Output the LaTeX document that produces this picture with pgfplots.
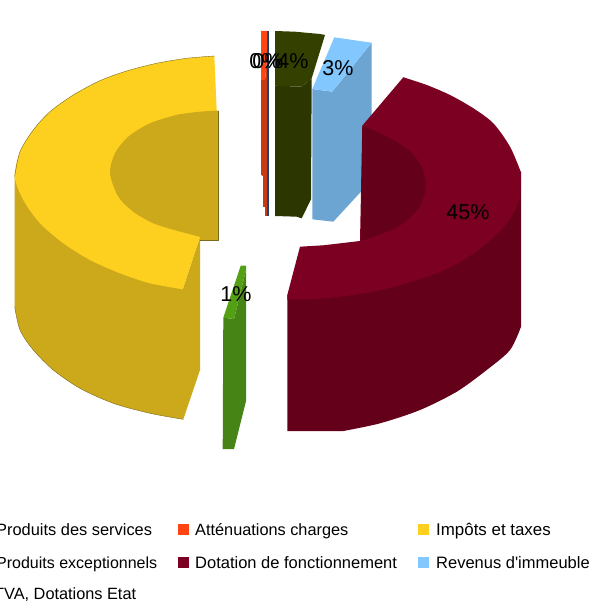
\documentclass[border=0pt]{standalone}
\usepackage{fontspec}
\setmainfont{Liberation Sans}
\newfontfamily\plainf{Liberation Sans}
\usepackage{pgfplots}
\pgfplotsset{compat=1.18}

\definecolor{yelTop}{HTML}{FDD01F}
\definecolor{yelSide}{HTML}{CCA81B}
\definecolor{yelEdge}{HTML}{7A6A20}
\definecolor{marTop}{HTML}{7B0022}
\definecolor{marSide}{HTML}{65001A}
\definecolor{bluTop}{HTML}{82C8FF}
\definecolor{bluSide}{HTML}{6CA4D2}
\definecolor{oliTop}{HTML}{334000}
\definecolor{oliSide}{HTML}{2B3600}
\definecolor{grnTop}{HTML}{54A015}
\definecolor{grnSide}{HTML}{478416}
\definecolor{oraTop}{HTML}{FF4511}
\definecolor{oraSide}{HTML}{C93A10}
\definecolor{navy}{HTML}{1F3F70}

\newcommand{\pct}[1]{{\fontsize{21.5}{24}\selectfont #1}}
\newcommand{\leg}[2]{{\plainf\fontsize{#1}{18}\selectfont #2}}

\begin{document}
\begin{tikzpicture}[x=1pt,y=1pt]
\useasboundingbox (0,0) rectangle (592,601);
\begin{axis}[at={(0,0)}, anchor=south west, scale only axis, width=592pt, height=601pt,
  xmin=0, xmax=592, ymin=0, ymax=601, y dir=reverse, hide axis, clip=true]

% blue slice
\addplot[fill=bluSide, draw=none] coordinates {(312.3,89) (332.3,91.7) (371.7,42.7) (371.7,180) (333.3,221.7) (312.3,219.3)};
\addplot[fill=bluTop, draw=none] coordinates {(334.3,37.3) (371.7,42.7) (332.3,91.7) (312.3,89)};

% olive slice
\addplot[fill=oliSide, draw=none] coordinates {(275,85.7) (301.7,86.7) (311.7,78.3) (311,199.3) (301.7,218.3) (296.7,216.7) (275,216)};
\addplot[fill=oliTop, draw=none] coordinates {(275,31) (295,31.7) (320,34) (325,35) (311.7,78.3) (301.7,86.7) (275,85.7)};

% orange and navy strips
\addplot[fill=navy, draw=none] coordinates {(267,31) (269,31) (269,216) (267,216)};
\addplot[fill=oraSide, draw=none] coordinates {(261,80) (265,80) (267,60) (267,216) (265,216) (265,207) (263,207) (263,176) (261,175)};
\addplot[fill=oraTop, draw=none] coordinates {(261,31) (267,31) (267,60) (265,80) (261,80)};

% green slice
\addplot[fill=grnSide, draw=none] coordinates {(223.3,317.7) (234,319) (246,270) (246,401) (234,449) (222.7,449)};
\addplot[fill=grnTop, draw=none] coordinates {(240.7,265.7) (246,265.7) (246,270) (234,319) (223.3,317.7)};

% yellow slice: side, top, inner wall
\addplot[fill=yelSide, draw=none] coordinates {(14.7,176.7) (14.7,306.7) (53.3,370) (113.3,403.3) (183.3,419.3) (200,370) (200,236.7) (182.7,289.3)};
\addplot[smooth, fill=yelSide, draw=none] coordinates {(14.7,306.7) (20,330) (33.3,350) (53.3,370) (80,388.3) (113.3,403.3) (150,413.3) (183.3,419.3)};
\addplot[fill=yelTop, draw=none] coordinates {(214.3,56) (216.7,110.7) (200,236.7) (182.7,289.3) (90,260) (14.7,176.7) (73.3,95)};
\addplot[smooth, fill=yelTop, draw=none] coordinates {(214.3,56) (186.7,58.3) (156.7,63.3) (126.7,71) (100,80.7) (73.3,95) (50,111.7) (33.3,130) (20,151.7) (14.7,176.7) (23.3,200) (40,223.3) (63.3,243.3) (90,260) (120,273.3) (150,283.3) (182.7,289.3)};
\addplot[fill=yelSide, draw=none] coordinates {(216.7,110.7) (218.3,110.7) (218.3,240.7) (200,240.7) (200,236.7) (133.3,211.7) (115,153.3) (176.7,115)};
\addplot[smooth, fill=yelSide, draw=none] coordinates {(200,236.7) (176.7,230.7) (153.3,223.3) (133.3,211.7) (118.3,196.7) (110,173.3) (115,153.3) (128.3,136.7) (150,123.3) (176.7,115) (200,111.7) (216.7,110.7)};
% thin dark edges on the yellow slice
\addplot[smooth, draw=yelEdge, line width=0.4pt] coordinates {(214.3,56) (186.7,58.3) (156.7,63.3) (126.7,71) (100,80.7) (73.3,95) (50,111.7) (33.3,130) (20,151.7) (14.7,176.7)};
\addplot[smooth, draw=yelEdge, line width=0.4pt] coordinates {(14.7,306.7) (20,330) (33.3,350) (53.3,370) (80,388.3) (113.3,403.3) (150,413.3) (183.3,419.3)};
\addplot[draw=yelEdge, line width=0.4pt] coordinates {(218.3,110.7) (218.3,240.7) (200,240.7)};

% maroon slice: side, top, inner wall
\addplot[fill=marSide, draw=none] coordinates {(521,171.7) (521,326.7) (456.7,391.7) (343.3,431) (287.3,431) (287.3,295)};
\addplot[smooth, fill=marSide, draw=none] coordinates {(521,326.7) (510,350) (486.7,370) (456.7,391.7) (420,410) (380,423.3) (343.3,431)};
\addplot[fill=marTop, draw=none] coordinates {(403.3,77.3) (473.3,108.3) (520.7,171.7) (486.7,243.3) (373.3,291.7) (287.3,299.3) (287.3,295) (300,246.7) (323.3,245.3) (360,241) (362.3,125.7)};
\addplot[smooth, fill=marTop, draw=none] coordinates {(403.3,77.3) (426.7,85) (450,95) (473.3,108.3) (493.3,123.3) (510,146.7) (520.7,171.7)};
\addplot[smooth, fill=marTop, draw=none] coordinates {(520.7,171.7) (519.3,200) (506.7,223.3) (486.7,243.3) (463.3,260) (436.7,273.3) (406.7,283.3) (373.3,291.7) (340,296.7) (310,299.3) (287.3,299.3)};
\addplot[smooth, fill=marSide, draw=none] coordinates {(362.3,125.7) (376.7,131.7) (393.3,140) (410,151.7) (421.7,166.7) (425.7,188.3) (418.3,208.3) (403.3,223.3) (383.3,233.3) (361,241)};

% legend squares
\addplot[only marks, mark=square*, mark size=5pt, mark options={fill=oraTop, draw=oraTop}] coordinates {(183,529)};
\addplot[only marks, mark=square*, mark size=5pt, mark options={fill=yelTop, draw=yelTop}] coordinates {(423,529)};
\addplot[only marks, mark=square*, mark size=5pt, mark options={fill=marTop, draw=marTop}] coordinates {(183,562)};
\addplot[only marks, mark=square*, mark size=5pt, mark options={fill=bluTop, draw=bluTop}] coordinates {(423,562)};

% percentage labels
\node[anchor=center, inner sep=0pt] at (axis cs:265,61) {\pct{0\%}};
\node[anchor=center, inner sep=0pt] at (axis cs:268,61) {\pct{0\%}};
\node[anchor=center, inner sep=0pt] at (axis cs:293,61) {\pct{4\%}};
\node[anchor=center, inner sep=0pt] at (axis cs:338,68) {\pct{3\%}};
\node[anchor=center, inner sep=0pt] at (axis cs:468,212) {\pct{45\%}};
\node[anchor=center, inner sep=0pt] at (axis cs:236,294) {\pct{1\%}};

% legend text
\node[anchor=base west, inner sep=0pt] at (axis cs:-4,535) {\leg{16.4}{Produits des services}};
\node[anchor=base west, inner sep=0pt] at (axis cs:195,535) {\leg{16.3}{Atténuations charges}};
\node[anchor=base west, inner sep=0pt] at (axis cs:436,535) {\leg{16.9}{Impôts et taxes}};
\node[anchor=base west, inner sep=0pt] at (axis cs:-4,568) {\leg{16}{Produits exceptionnels}};
\node[anchor=base west, inner sep=0pt] at (axis cs:195,568) {\leg{16.5}{Dotation de fonctionnement}};
\node[anchor=base west, inner sep=0pt] at (axis cs:436,568) {\leg{16.5}{Revenus d'immeuble}};
\node[anchor=base west, inner sep=0pt] at (axis cs:-6,599) {\leg{16.3}{TVA, Dotations Etat}};
\end{axis}
\end{tikzpicture}
\end{document}
